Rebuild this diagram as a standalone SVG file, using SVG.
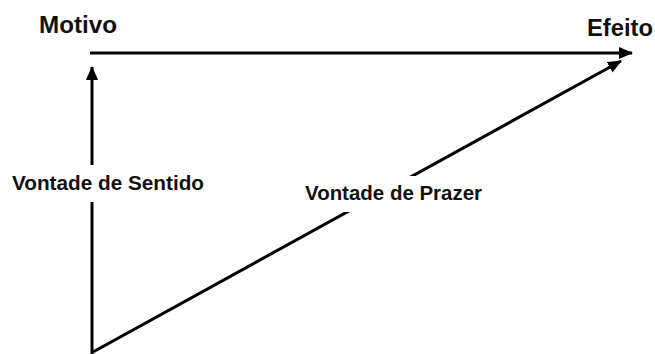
<svg xmlns="http://www.w3.org/2000/svg" width="655" height="354" viewBox="0 0 655 354">
<style>
.ln{stroke:#000;stroke-width:3;fill:none;marker-end:url(#ah)}
.lbl{font-family:"Liberation Sans",Arial,sans-serif;font-weight:bold;fill:#111}
.bg{fill:#fff}
</style>
<defs>
<marker id="ah" markerUnits="userSpaceOnUse" markerWidth="14" markerHeight="12" viewBox="0 0 14 12" refX="13" refY="6" orient="auto">
<path d="M0,0 L14,6 L0,12 Z" fill="#000"/>
</marker>
</defs>
<rect width="655" height="354" fill="#fff"/>
<g id="connectors">
<line class="ln" x1="90" y1="53" x2="632" y2="53"/>
<line class="ln" x1="92" y1="354" x2="92" y2="67"/>
<line class="ln" x1="93" y1="352" x2="621" y2="61"/>
</g>
<g id="motivo"><text class="lbl" x="39" y="33" font-size="23" textLength="78" lengthAdjust="spacingAndGlyphs">Motivo</text></g>
<g id="efeito"><text class="lbl" x="587" y="36" font-size="23" textLength="66" lengthAdjust="spacingAndGlyphs">Efeito</text></g>
<g id="vontade-sentido">
<rect class="bg" x="6" y="165" width="204" height="37"/>
<text class="lbl" x="12" y="190" font-size="20" textLength="192" lengthAdjust="spacingAndGlyphs">Vontade de Sentido</text>
</g>
<g id="vontade-prazer">
<rect class="bg" x="300" y="176" width="188" height="36"/>
<text class="lbl" x="305" y="200" font-size="20.5" textLength="177" lengthAdjust="spacingAndGlyphs">Vontade de Prazer</text>
</g>
</svg>
